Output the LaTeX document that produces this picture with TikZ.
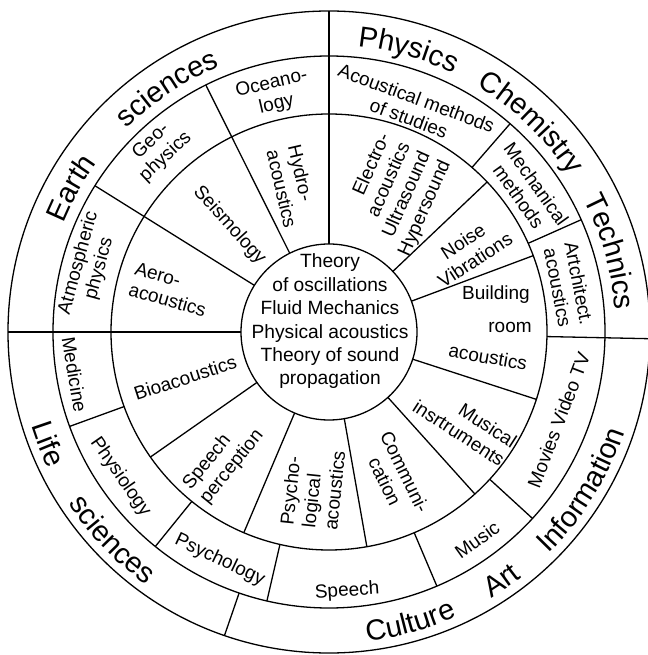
\documentclass[tikz,border=0pt]{standalone}
\usepackage{fontspec}
\setmainfont{Liberation Sans}
\usetikzlibrary{decorations.text}

\newcommand\fsOuter{\fontsize{29}{31}\selectfont}
\newcommand\fsMid{\fontsize{19}{21.5}\selectfont}
\newcommand\fsIn{\fontsize{19}{22}\selectfont}
\newcommand\fsCore{\fontsize{19.2}{23.4}\selectfont}

\tikzset{
  ring/.style={line width=1.3pt},
  spoke/.style={line width=1.3pt},
  midtxt/.style={font=\fsMid, align=center, inner sep=0pt},
  intxt/.style={font=\fsIn, align=center, inner sep=0pt},
  coretxt/.style={font=\fsCore, align=center, inner sep=0pt},
  % words of the outer ring, set along an arc
  topword/.style={decorate, decoration={text along path, text align=center, text={|\fsOuter|#1}}},
  botword/.style={decorate, decoration={text along path, text align=center, text={|\fsOuter|#1}}}
}

\begin{document}
\begin{tikzpicture}[x=1pt,y=1pt]
\useasboundingbox (-329,-323) rectangle (318,332);

% concentric rings
\draw[ring] (0,0) circle[radius=88];
\draw[ring] (0,0) circle[radius=218];
\draw[ring] (0,0) circle[radius=276];
\draw[ring] (0,0) circle[radius=321];

% spokes of the inner ring
\foreach \a in {90,116.5,148,180,215,247,280,312,342,20.5,43.5}
  \draw[spoke] (\a:88) -- (\a:218);
% spokes of the middle ring
\foreach \a in {90,116.5,148,180,200,231,257,293,317.5,358.8,24,49}
  \draw[spoke] (\a:218) -- (\a:276);
% spokes of the outer ring
\foreach \a in {90,180,251,358.8}
  \draw[spoke] (\a:276) -- (\a:321);

% core
\node[coretxt] (core) at (1,10.5) {Theory\\of oscillations\\Fluid Mechanics\\Physical acoustics\\Theory of sound\\propagation};

% inner ring
\node[intxt, rotate=-77, align=left] (hydro) at (104:150) {Hydro-\\acoustics};
\node[intxt, rotate=-48] (seis) at (133:146) {Seismology};
\node[intxt, rotate=-16, align=left] (aero) at (165:164) {Aero-\\acoustics};
\node[intxt, rotate=18] (bio) at (197.7:151) {Bioacoustics};
\node[intxt, rotate=51, align=left] (speechp) at (230.5:166) {Speech\\perception};
\node[intxt, rotate=84, align=left] (psycho) at (264:157) {Psycho-\\logical\\acoustics};
\node[intxt, rotate=-64] (commun) at (294.5:159) {Communi-\\cation};
\node[intxt, rotate=-33, align=right] (musical) at (326:164) {Musical\\insrtruments};
\node[intxt] (build1) at (167,37) {Building};
\node[intxt] (build2) at (181,5) {room};
\node[intxt, rotate=-10] (build3) at (159,-25) {acoustics};
\node[intxt, rotate=33] (noise) at (30.2:162) {Noise\\Vibrations};
\node[intxt, rotate=66, align=right] (electro) at (64.3:152) {Electro-\\acoustics\\Ultrasound\\Hypersound};

% middle ring
\node[midtxt, rotate=13] (ocean) at (103:244) {Oceano-\\logy};
\node[midtxt, rotate=-20.5] (acmeth) at (69.5:239) {Acoustical methods\\of studies};
\node[midtxt, rotate=-54.5] (mech) at (35.5:244) {Mechanical\\methods};
\node[midtxt, rotate=-79] (arch) at (11:244) {Artchitect.\\acoustics};
\node[midtxt, rotate=69] (movies) at (339:246) {Movies Video TV};
\node[midtxt, rotate=35.5] (music) at (305.5:255) {Music};
\node[midtxt, rotate=4] (speech) at (274:260) {Speech};
\node[midtxt, rotate=-25.6] (psychology) at (244.4:253) {Psychology};
\node[midtxt, rotate=-55.2] (physiology) at (214.8:254) {Physiology};
\node[midtxt, rotate=-80.5] (medicine) at (189.5:258) {Medicine};
\node[midtxt, rotate=74.6] (atmos) at (164.6:249) {Atmospheric\\physics};
\node[midtxt, rotate=43] (geo) at (133:250) {Geo-\\physics};

% outer ring, upper words (read clockwise)
\path[topword=Earth] (190.8:287) arc[start angle=190.8, end angle=110.8, radius=287];
\path[topword=sciences] (163.6:287) arc[start angle=163.6, end angle=83.6, radius=287];
\path[topword=Physics] (114.3:287) arc[start angle=114.3, end angle=34.3, radius=287];
\path[topword=Chemistry] (86:287) arc[start angle=86, end angle=6, radius=287];
\path[topword=Technics] (56:287) arc[start angle=56, end angle=-24, radius=287];

% outer ring, lower words (read counterclockwise)
\path[botword=Life] (161.7:312) arc[start angle=161.7, end angle=241.7, radius=312];
\path[botword=sciences] (183.8:312) arc[start angle=183.8, end angle=263.8, radius=312];
\path[botword=Culture] (245.6:312) arc[start angle=245.6, end angle=325.6, radius=312];
\path[botword=Art] (264.8:312) arc[start angle=264.8, end angle=344.8, radius=312];
\path[botword=Information] (288:312) arc[start angle=288, end angle=368, radius=312];
\end{tikzpicture}
\end{document}
